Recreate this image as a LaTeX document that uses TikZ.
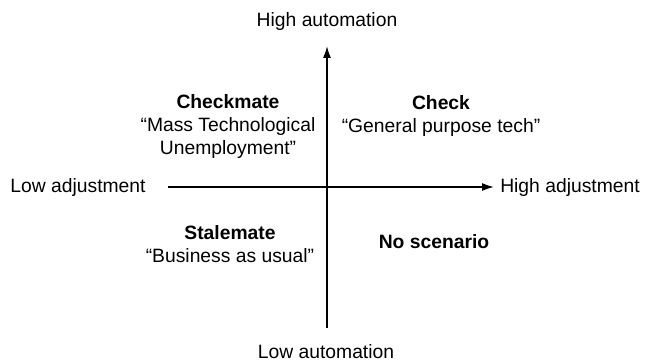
\documentclass[tikz,border=0pt]{standalone}
\usepackage{fontspec}
\setmainfont{Liberation Sans}
\usetikzlibrary{positioning, calc, arrows.meta}
\tikzstyle{Axis} = [
line width=1.6pt,
black,
-{Latex[length=12pt, width=8pt]}]
\tikzstyle{Label} = [
inner sep=0pt,
font=\fontsize{19.3}{23}\selectfont]
\tikzstyle{Quadrant} = [
Label,
align=center]

\begin{document}
\begin{tikzpicture}[x=1pt, y=-1pt]
    \useasboundingbox (0,0) rectangle (645,363);

    \node [Label] (hiauto) at (327,22) {High automation};
    \node [Label] (loauto) at (326,352) {Low automation};
    \node [Label] (loadj) at (78,188) {Low adjustment};
    \node [Label] (hiadj) at (570,188) {High adjustment};

    \node [Quadrant] (mate) at (228,127) {\textbf{Checkmate}\\“Mass Technological\\Unemployment”};
    \node [Quadrant] (check) at (441,116) {\textbf{Check}\\“General purpose tech”};
    \node [Quadrant] (stale) at (230,244) {\textbf{Stalemate}\\“Business as usual”};
    \node [Quadrant] (none) at (434,242) {\textbf{No scenario}};

    \coordinate (vbot) at (327,328);
    \coordinate (vtop) at (327,46);
    \coordinate (hleft) at (168,187);
    \coordinate (hright) at (494,187);

    \draw[Axis] (vbot) -- (vtop);
    \draw[Axis] (hleft) -- (hright);
\end{tikzpicture}
\end{document}
